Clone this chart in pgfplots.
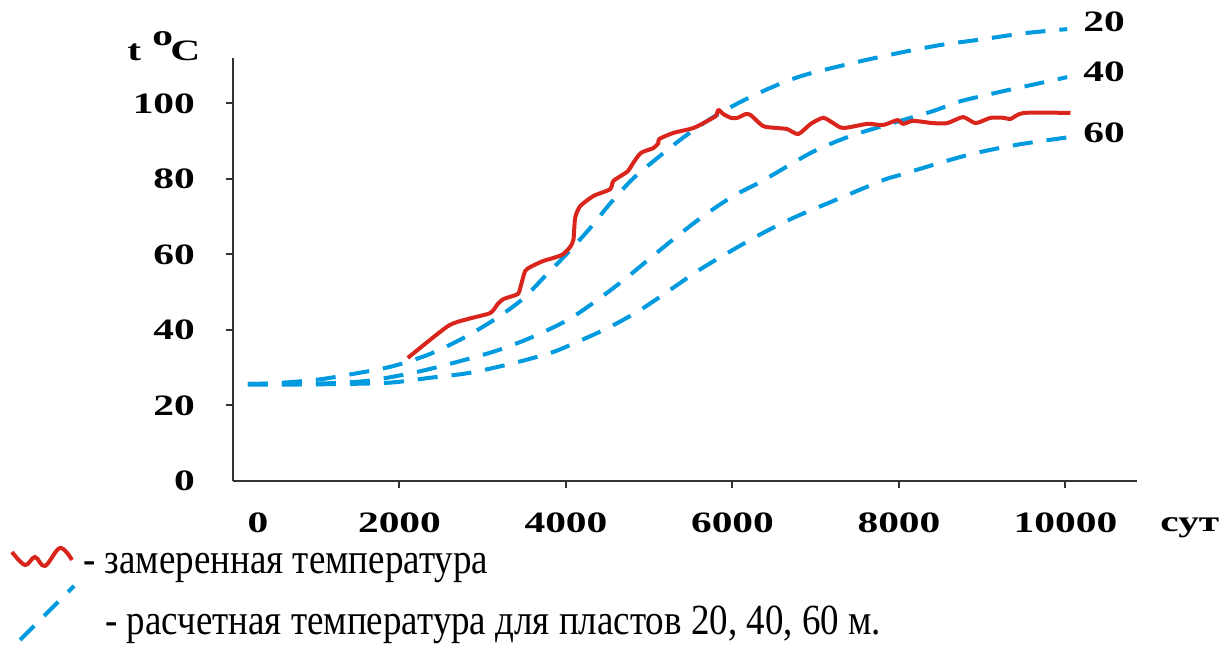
\documentclass[border=0pt]{standalone}
\usepackage{fontspec}
\setmainfont{Liberation Serif}
\newfontfamily\tickfont[FakeStretch=1.4]{Liberation Serif}
\newfontfamily\legfont[FakeStretch=0.86]{Liberation Serif}
\usepackage{pgfplots}
\pgfplotsset{compat=1.18}
\definecolor{cred}{RGB}{218,37,29}
\definecolor{cblue}{RGB}{0,154,222}
\definecolor{axgray}{RGB}{50,50,50}
\newcommand{\tf}{\fontsize{14.8}{16}\selectfont\tickfont\bfseries}
\newcommand{\lf}{\fontsize{21.5}{23}\selectfont\legfont}
\begin{document}
\begin{tikzpicture}
\begin{axis}[
  scale only axis, width=452pt, height=211.4pt,
  xmin=0, xmax=10859, ymin=0, ymax=112,
  axis lines*=left,
  axis line style={axgray, line width=1pt},
  xtick={2000,4000,6000,8000,10000},
  xticklabels={2000,4000,6000,8000,10000},
  ytick={20,40,60,80,100},
  yticklabels={20,40,60,80,100},
  scaled x ticks=false, scaled y ticks=false,
  tick style={axgray, line width=1pt},
  major tick length=3.5pt,
  tick align=outside,
  extra x ticks={300}, extra x tick labels={0},
  extra x tick style={tick style={draw=none}},
  extra y ticks={0}, extra y tick labels={0},
  extra y tick style={tick style={draw=none}},
  ticklabel style={font=\tf, text=black},
  xticklabel style={yshift=-9pt},
  yticklabel style={xshift=-12pt},
  clip=false,
]
% calculated, 20 m
\addplot[cblue, line width=2pt, dash pattern=on 10pt off 7pt, smooth] coordinates {
(180,25.7) (500,25.9) (1000,26.8) (1400,28.2) (1900,30.3) (2350,33.5) (2770,37.9) (3150,42.9) (3480,48.2) (3750,54.3) (4020,60.4) (4290,67) (4530,73.5) (4800,80) (5100,85.6) (5410,91) (5740,96) (6060,100) (6370,103.3) (6660,106) (6940,108) (7500,111) (8000,113.4) (8500,115.5) (9000,117) (9500,118.6) (10020,119.7)};
% calculated, 40 m
\addplot[cblue, line width=2pt, dash pattern=on 10pt off 7pt, smooth] coordinates {
(180,25.7) (1000,25.8) (1600,26.5) (2150,28.6) (2600,31) (3150,34.4) (3570,37.9) (4000,42.4) (4330,47.2) (4680,53) (5000,58.8) (5310,64.4) (5650,70.2) (6010,75.5) (6360,79.5) (6940,86.9) (7420,91.4) (8000,95.3) (8410,98) (8740,100.6) (9300,103.5) (9820,106) (10020,107)};
% calculated, 60 m
\addplot[cblue, line width=2pt, dash pattern=on 10pt off 7pt, smooth] coordinates {
(180,25.5) (1000,25.6) (1850,26) (2350,27.3) (2830,28.6) (3330,31) (3810,33.9) (4080,36.3) (4500,40.5) (4870,45) (5230,50.3) (5580,55.6) (5940,60.4) (6340,65.4) (6730,69.7) (7180,73.9) (7800,79.6) (8000,81) (8800,86.2) (9400,89) (10020,91)};
% measured
\addplot[cred, line width=2pt, smooth, tension=0.4, line join=round] coordinates {
(2100,32.6) (2580,41) (2820,42.9) (3090,44.5) (3180,46.9) (3250,48.2) (3420,49.5) (3450,51.1) (3510,55.6) (3600,57) (3730,58.3) (3850,59.1) (3960,60) (4050,62) (4090,64) (4110,69.7) (4170,72.8) (4330,75.5) (4530,77.3) (4570,79.5) (4740,82) (4800,84) (4900,86.9) (5050,88.2) (5110,89.5) (5120,90.6) (5290,92.2) (5530,93.5) (5700,95.4) (5800,96.7) (5830,98.3) (5890,97.2) (5980,96.2) (6060,96.2) (6160,97.2) (6220,96.9) (6370,94) (6540,93.5) (6660,93.2) (6790,91.9) (6940,94.6) (7090,96.2) (7210,94.8) (7330,93.5) (7620,94.6) (7810,94.3) (7980,95.6) (8050,94.6) (8170,95.4) (8410,94.8) (8580,94.8) (8770,96.4) (8920,94.8) (9100,96.2) (9260,96.2) (9340,95.9) (9500,97.5) (10060,97.5)};
\end{axis}
\begin{scope}[shift={(-116.5pt,240.5pt)}, x=0.5pt, y=-0.5pt]
\node[font=\tf, anchor=base west, inner sep=0] at (127,61) {t};
\node[font=\tf, anchor=base west, inner sep=0] at (152,46) {o};
\node[font=\tf, anchor=base west, inner sep=0] at (170,61) {C};
\node[font=\tf, anchor=base west, inner sep=0] at (1160,532) {сут};
\node[font=\tf, anchor=base west, inner sep=0] at (1083,32) {20};
\node[font=\tf, anchor=base west, inner sep=0] at (1083,82) {40};
\node[font=\tf, anchor=base west, inner sep=0] at (1083,143) {60};
\draw[cred, line width=2pt, smooth, tension=0.6] plot coordinates {(12,552) (25,565) (35,557) (45,566) (60,548) (72,560)};
\draw[cblue, line width=2pt, dash pattern=on 10pt off 7pt] (20,640) -- (74,586);
\node[font=\lf, anchor=base west, inner sep=0] at (83,574) {- замеренная температура};
\node[font=\lf, anchor=base west, inner sep=0] at (105,635) {- расчетная температура для пластов 20, 40, 60 м.};
\pgfresetboundingbox
\path[use as bounding box] (0,0) rectangle (1227,646);
\end{scope}
\end{tikzpicture}
\end{document}
